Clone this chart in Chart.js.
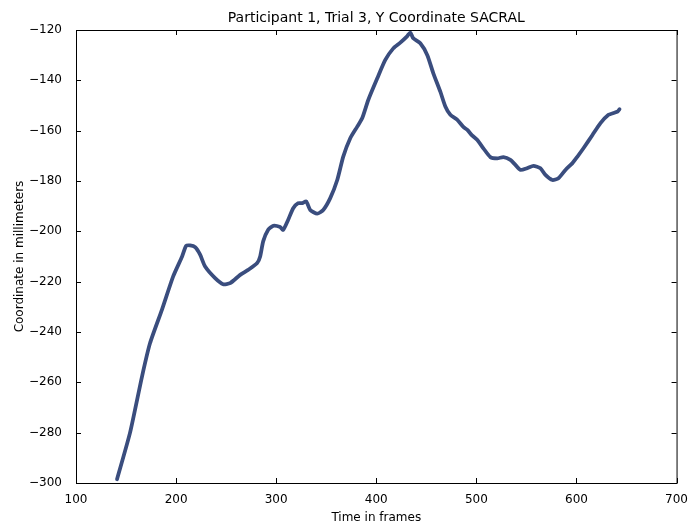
<!DOCTYPE html>
<html lang="en">
<head>
<meta charset="UTF-8">
<title>Participant 1, Trial 3, Y Coordinate SACRAL</title>
<script src="https://cdn.jsdelivr.net/npm/chart.js"></script>
<style>
html, body { margin: 0; padding: 0; background: #fff; }
#wrap { width: 690px; height: 525px; }
</style>
</head>
<body>
<div id="wrap"><canvas id="sacralChart" width="690" height="525"></canvas></div>

<script>
const chartTitle = 'Participant 1, Trial 3, Y Coordinate SACRAL';
const xLabel = 'Time in frames';
const yLabel = 'Coordinate in millimeters';

const xTicks = [100, 200, 300, 400, 500, 600, 700];
const yTicks = [-300, -280, -260, -240, -220, -200, -180, -160, -140, -120];

const frames = [141, 154, 166, 174, 186, 197, 206, 210, 214, 219, 224, 229, 239, 247, 254, 264, 272, 281, 284, 287,
  292, 297, 304, 307, 312, 317, 322, 326, 330, 334, 341, 347, 354, 361, 367, 374, 381, 386, 392, 401,
  409, 417, 424, 431, 434, 437, 444, 451, 457, 464, 469, 474, 481, 487, 491, 496, 501, 507, 514, 521,
  527, 534, 539, 544, 551, 557, 564, 569, 576, 582, 589, 596, 601, 607, 616, 624, 632, 637, 641, 643];
const yCoord = [-298.5, -280, -257.6, -244.4, -231, -218, -210, -205.8, -205.6, -206.3, -209.3, -214, -218.6, -221, -220.6, -217.3, -215.3, -212.6, -210, -204,
  -199.4, -197.8, -198.3, -199.4, -195.4, -190.8, -188.8, -188.8, -188.1, -191.5, -193, -191.5, -186.8, -179.6, -170.3, -163, -158.4, -155, -147.8, -139.2,
  -131.9, -127.3, -125, -122.4, -121, -123.3, -125.3, -130, -137.2, -144.5, -150.4, -153.7, -155.7, -158.5, -159.7, -162, -163.7, -167, -170.5, -171,
  -170.5, -171.6, -173.6, -175.6, -174.9, -174, -174.9, -177.6, -179.6, -178.9, -175.6, -172.9, -170.3, -167, -161.7, -157, -153.7, -153, -152.4, -151.5];

const points = frames.map((f, i) => ({ x: f, y: yCoord[i] }));
const FONT = "'DejaVu Sans', sans-serif";

// box frame + inward ticks on all four sides, title over the axes
const framePlugin = {
  id: 'frame',
  afterDraw(chart) {
    const { ctx, chartArea: a, scales } = chart;
    ctx.save();
    ctx.strokeStyle = '#000';
    ctx.lineWidth = 1;
    ctx.strokeRect(a.left + 0.5, a.top + 0.5, a.right - a.left, a.bottom - a.top);
    const len = 5;
    ctx.beginPath();
    xTicks.forEach(v => {
      const px = Math.round(scales.x.getPixelForValue(v)) + 0.5;
      ctx.moveTo(px, a.bottom); ctx.lineTo(px, a.bottom - len);
      ctx.moveTo(px, a.top); ctx.lineTo(px, a.top + len);
    });
    yTicks.forEach(v => {
      const py = Math.round(scales.y.getPixelForValue(v)) + 0.5;
      ctx.moveTo(a.left, py); ctx.lineTo(a.left + len, py);
      ctx.moveTo(a.right, py); ctx.lineTo(a.right - len, py);
    });
    ctx.stroke();
    ctx.fillStyle = '#000';
    ctx.font = '14px ' + FONT;
    ctx.textAlign = 'center';
    ctx.textBaseline = 'bottom';
    ctx.fillText(chartTitle, (a.left + a.right) / 2, a.top - 5);
    ctx.restore();
  }
};

const minus = v => String(v).replace('-', '\u2212');

new Chart(document.getElementById('sacralChart'), {
  type: 'line',
  data: {
    datasets: [{
      data: points,
      borderColor: '#3a4d7e',
      borderWidth: 3.8,
      pointRadius: 0,
      tension: 0.2,
      fill: false,
      borderCapStyle: 'round',
      borderJoinStyle: 'round'
    }]
  },
  options: {
    responsive: false,
    animation: false,
    layout: { padding: { top: 30, right: 13, left: 0, bottom: 0 } },
    plugins: { legend: { display: false }, tooltip: { enabled: false }, title: { display: false } },
    scales: {
      x: {
        type: 'linear',
        min: 100, max: 700,
        afterBuildTicks: s => { s.ticks = xTicks.map(v => ({ value: v })); },
        afterFit: s => { s.height = 42; },
        grid: { display: false },
        border: { display: false },
        ticks: { color: '#000', font: { family: FONT, size: 12 }, padding: 2, maxRotation: 0, callback: v => v },
        title: { display: true, text: xLabel, color: '#000', font: { family: FONT, size: 12 }, padding: { top: 2, bottom: 0 } }
      },
      y: {
        min: -300, max: -120,
        afterBuildTicks: s => { s.ticks = yTicks.map(v => ({ value: v })); },
        afterFit: s => { s.width = 76; },
        grid: { display: false },
        border: { display: false },
        ticks: { color: '#000', font: { family: FONT, size: 12 }, padding: 6, callback: v => minus(v) },
        title: { display: true, text: yLabel, color: '#000', font: { family: FONT, size: 12 }, padding: { top: 13, bottom: 0 } }
      }
    }
  },
  plugins: [framePlugin]
});
</script>
</body>
</html>
